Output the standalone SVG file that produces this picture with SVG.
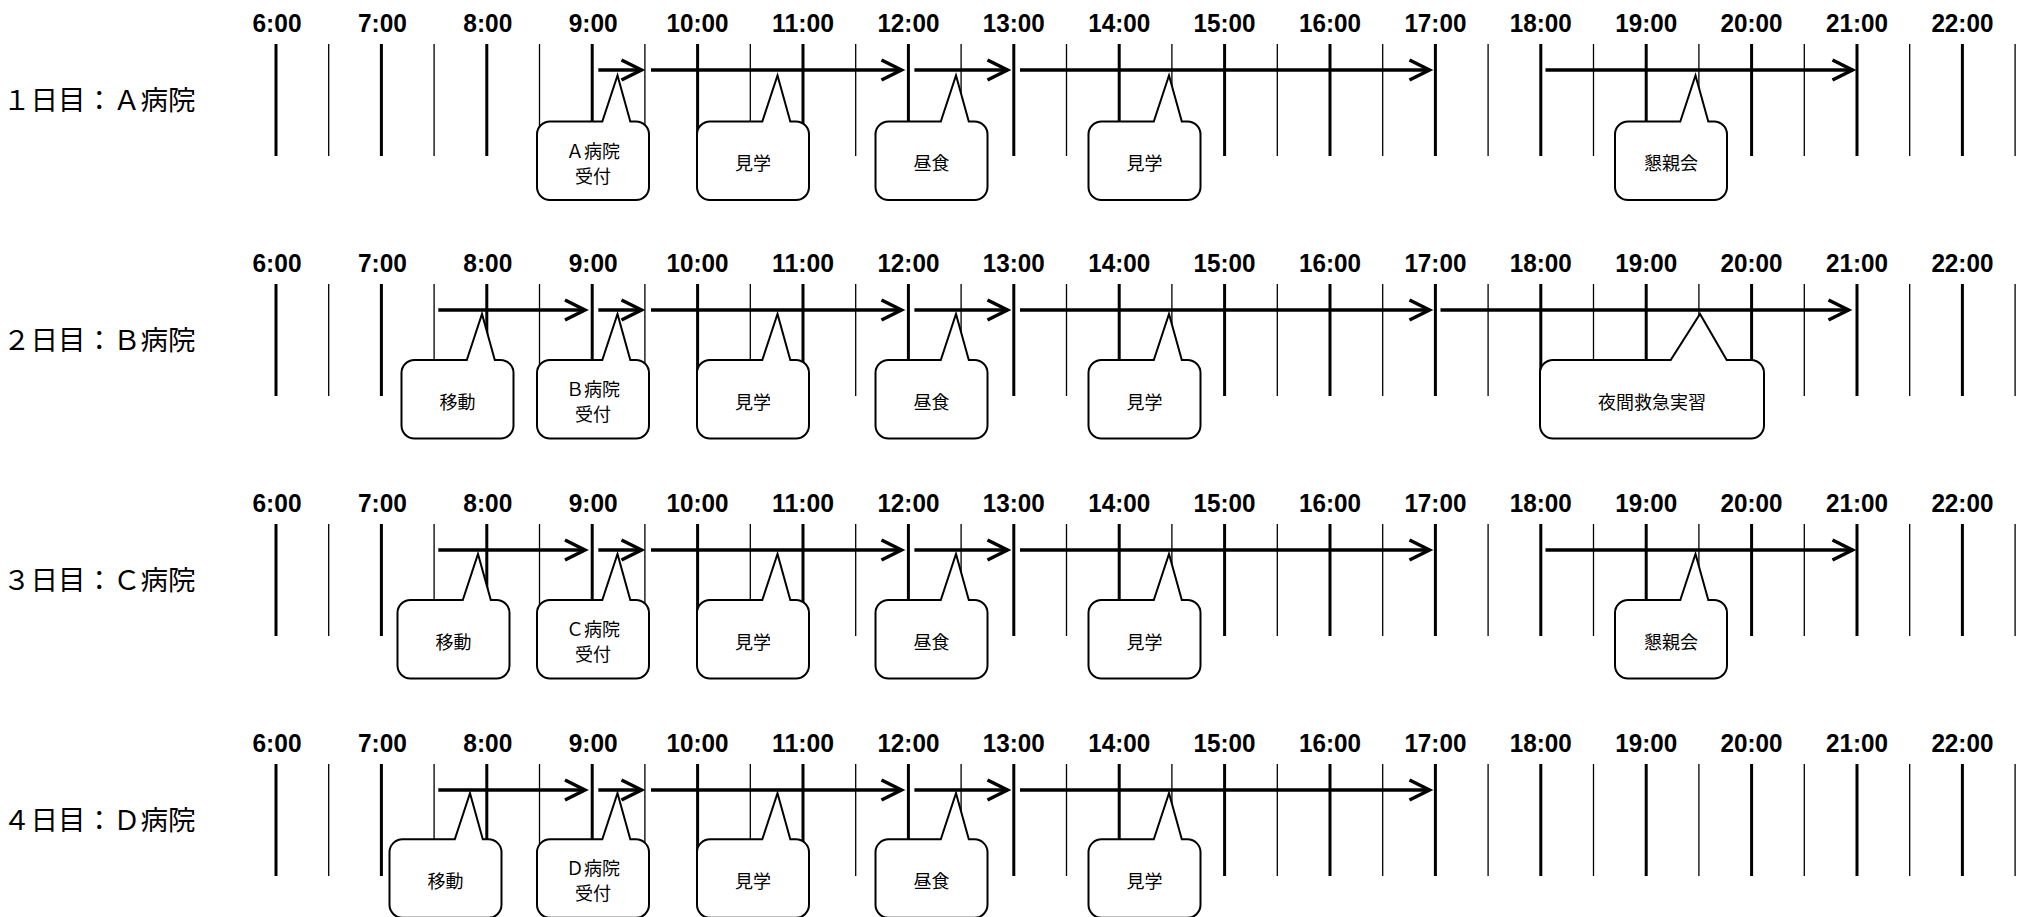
<svg xmlns="http://www.w3.org/2000/svg" xmlns:xlink="http://www.w3.org/1999/xlink" width="2031" height="917" viewBox="0 0 2031 917">
<style>
.hr{stroke:#000;stroke-width:3;fill:none}
.hh{stroke:#000;stroke-width:1.3;fill:none}
.tl{font-family:"Liberation Sans",Arial,sans-serif;font-weight:bold;font-size:25px;text-anchor:middle;fill:#000}
.day{font-family:"Noto Sans CJK JP",sans-serif;font-size:27.5px;dominant-baseline:central;fill:#000}
.arr{stroke:#000;stroke-width:3.5;fill:none;marker-end:url(#ah)}
.co{fill:#fff;stroke:#000;stroke-width:2}
.ct{font-family:"Noto Sans CJK JP",sans-serif;font-size:18px;text-anchor:middle;dominant-baseline:central;fill:#000}
</style>
<defs>
<marker id="ah" markerUnits="userSpaceOnUse" markerWidth="30" markerHeight="30" viewBox="-25 -15 30 30" refX="0" refY="0" orient="auto" overflow="visible">
<path d="M-20,-10L0,0L-20,10" fill="none" stroke="#000" stroke-width="3.5"/>
</marker>
<g id="grid">
<path class="hr" d="M276 44V156M381.4 44V156M486.8 44V156M592.2 44V156M697.6 44V156M803 44V156M908.4 44V156M1013.8 44V156M1119.2 44V156M1224.6 44V156M1330 44V156M1435.4 44V156M1540.8 44V156M1646.2 44V156M1751.6 44V156M1857 44V156M1962.4 44V156"/>
<path class="hh" d="M328.7 44V156M434.1 44V156M539.5 44V156M644.9 44V156M750.3 44V156M855.7 44V156M961.1 44V156M1066.5 44V156M1171.9 44V156M1277.3 44V156M1382.7 44V156M1488.1 44V156M1593.5 44V156M1698.9 44V156M1804.3 44V156M1909.7 44V156M2015.1 44V156"/>
</g>
<path id="cs" class="co" d="M13,0H65.3L80.5,-46L93.3,0H99A13,13 0 0 1 112,13V65.5A13,13 0 0 1 99,78.5H13A13,13 0 0 1 0,65.5V13A13,13 0 0 1 13,0Z"/>
<path id="cw" class="co" d="M13,0H130.7L160,-46L186.7,0H211A13,13 0 0 1 224,13V65.5A13,13 0 0 1 211,78.5H13A13,13 0 0 1 0,65.5V13A13,13 0 0 1 13,0Z"/>
</defs>

<g id="grid-lines">
<use xlink:href="#grid" href="#grid"/>
<use xlink:href="#grid" href="#grid" y="240"/>
<use xlink:href="#grid" href="#grid" y="480"/>
<use xlink:href="#grid" href="#grid" y="720"/>
</g>

<g id="day-labels">
<text class="day" x="3" y="98">１日目：Ａ病院</text>
<text class="day" x="3" y="338">２日目：Ｂ病院</text>
<text class="day" x="3" y="578">３日目：Ｃ病院</text>
<text class="day" x="3" y="818">４日目：Ｄ病院</text>
</g>

<g id="time-labels">
<g transform="translate(0,0)">
<text class="tl" x="277" y="31.5" textLength="49" lengthAdjust="spacingAndGlyphs">6:00</text><text class="tl" x="382.4" y="31.5" textLength="49" lengthAdjust="spacingAndGlyphs">7:00</text><text class="tl" x="487.8" y="31.5" textLength="49" lengthAdjust="spacingAndGlyphs">8:00</text><text class="tl" x="593.2" y="31.5" textLength="49" lengthAdjust="spacingAndGlyphs">9:00</text><text class="tl" x="697.6" y="31.5" textLength="62" lengthAdjust="spacingAndGlyphs">10:00</text><text class="tl" x="803" y="31.5" textLength="62" lengthAdjust="spacingAndGlyphs">11:00</text><text class="tl" x="908.4" y="31.5" textLength="62" lengthAdjust="spacingAndGlyphs">12:00</text><text class="tl" x="1013.8" y="31.5" textLength="62" lengthAdjust="spacingAndGlyphs">13:00</text><text class="tl" x="1119.2" y="31.5" textLength="62" lengthAdjust="spacingAndGlyphs">14:00</text><text class="tl" x="1224.6" y="31.5" textLength="62" lengthAdjust="spacingAndGlyphs">15:00</text><text class="tl" x="1330" y="31.5" textLength="62" lengthAdjust="spacingAndGlyphs">16:00</text><text class="tl" x="1435.4" y="31.5" textLength="62" lengthAdjust="spacingAndGlyphs">17:00</text><text class="tl" x="1540.8" y="31.5" textLength="62" lengthAdjust="spacingAndGlyphs">18:00</text><text class="tl" x="1646.2" y="31.5" textLength="62" lengthAdjust="spacingAndGlyphs">19:00</text><text class="tl" x="1751.6" y="31.5" textLength="62" lengthAdjust="spacingAndGlyphs">20:00</text><text class="tl" x="1857" y="31.5" textLength="62" lengthAdjust="spacingAndGlyphs">21:00</text><text class="tl" x="1962.4" y="31.5" textLength="62" lengthAdjust="spacingAndGlyphs">22:00</text>
</g>
<g transform="translate(0,240)">
<text class="tl" x="277" y="31.5" textLength="49" lengthAdjust="spacingAndGlyphs">6:00</text><text class="tl" x="382.4" y="31.5" textLength="49" lengthAdjust="spacingAndGlyphs">7:00</text><text class="tl" x="487.8" y="31.5" textLength="49" lengthAdjust="spacingAndGlyphs">8:00</text><text class="tl" x="593.2" y="31.5" textLength="49" lengthAdjust="spacingAndGlyphs">9:00</text><text class="tl" x="697.6" y="31.5" textLength="62" lengthAdjust="spacingAndGlyphs">10:00</text><text class="tl" x="803" y="31.5" textLength="62" lengthAdjust="spacingAndGlyphs">11:00</text><text class="tl" x="908.4" y="31.5" textLength="62" lengthAdjust="spacingAndGlyphs">12:00</text><text class="tl" x="1013.8" y="31.5" textLength="62" lengthAdjust="spacingAndGlyphs">13:00</text><text class="tl" x="1119.2" y="31.5" textLength="62" lengthAdjust="spacingAndGlyphs">14:00</text><text class="tl" x="1224.6" y="31.5" textLength="62" lengthAdjust="spacingAndGlyphs">15:00</text><text class="tl" x="1330" y="31.5" textLength="62" lengthAdjust="spacingAndGlyphs">16:00</text><text class="tl" x="1435.4" y="31.5" textLength="62" lengthAdjust="spacingAndGlyphs">17:00</text><text class="tl" x="1540.8" y="31.5" textLength="62" lengthAdjust="spacingAndGlyphs">18:00</text><text class="tl" x="1646.2" y="31.5" textLength="62" lengthAdjust="spacingAndGlyphs">19:00</text><text class="tl" x="1751.6" y="31.5" textLength="62" lengthAdjust="spacingAndGlyphs">20:00</text><text class="tl" x="1857" y="31.5" textLength="62" lengthAdjust="spacingAndGlyphs">21:00</text><text class="tl" x="1962.4" y="31.5" textLength="62" lengthAdjust="spacingAndGlyphs">22:00</text>
</g>
<g transform="translate(0,480)">
<text class="tl" x="277" y="31.5" textLength="49" lengthAdjust="spacingAndGlyphs">6:00</text><text class="tl" x="382.4" y="31.5" textLength="49" lengthAdjust="spacingAndGlyphs">7:00</text><text class="tl" x="487.8" y="31.5" textLength="49" lengthAdjust="spacingAndGlyphs">8:00</text><text class="tl" x="593.2" y="31.5" textLength="49" lengthAdjust="spacingAndGlyphs">9:00</text><text class="tl" x="697.6" y="31.5" textLength="62" lengthAdjust="spacingAndGlyphs">10:00</text><text class="tl" x="803" y="31.5" textLength="62" lengthAdjust="spacingAndGlyphs">11:00</text><text class="tl" x="908.4" y="31.5" textLength="62" lengthAdjust="spacingAndGlyphs">12:00</text><text class="tl" x="1013.8" y="31.5" textLength="62" lengthAdjust="spacingAndGlyphs">13:00</text><text class="tl" x="1119.2" y="31.5" textLength="62" lengthAdjust="spacingAndGlyphs">14:00</text><text class="tl" x="1224.6" y="31.5" textLength="62" lengthAdjust="spacingAndGlyphs">15:00</text><text class="tl" x="1330" y="31.5" textLength="62" lengthAdjust="spacingAndGlyphs">16:00</text><text class="tl" x="1435.4" y="31.5" textLength="62" lengthAdjust="spacingAndGlyphs">17:00</text><text class="tl" x="1540.8" y="31.5" textLength="62" lengthAdjust="spacingAndGlyphs">18:00</text><text class="tl" x="1646.2" y="31.5" textLength="62" lengthAdjust="spacingAndGlyphs">19:00</text><text class="tl" x="1751.6" y="31.5" textLength="62" lengthAdjust="spacingAndGlyphs">20:00</text><text class="tl" x="1857" y="31.5" textLength="62" lengthAdjust="spacingAndGlyphs">21:00</text><text class="tl" x="1962.4" y="31.5" textLength="62" lengthAdjust="spacingAndGlyphs">22:00</text>
</g>
<g transform="translate(0,720)">
<text class="tl" x="277" y="31.5" textLength="49" lengthAdjust="spacingAndGlyphs">6:00</text><text class="tl" x="382.4" y="31.5" textLength="49" lengthAdjust="spacingAndGlyphs">7:00</text><text class="tl" x="487.8" y="31.5" textLength="49" lengthAdjust="spacingAndGlyphs">8:00</text><text class="tl" x="593.2" y="31.5" textLength="49" lengthAdjust="spacingAndGlyphs">9:00</text><text class="tl" x="697.6" y="31.5" textLength="62" lengthAdjust="spacingAndGlyphs">10:00</text><text class="tl" x="803" y="31.5" textLength="62" lengthAdjust="spacingAndGlyphs">11:00</text><text class="tl" x="908.4" y="31.5" textLength="62" lengthAdjust="spacingAndGlyphs">12:00</text><text class="tl" x="1013.8" y="31.5" textLength="62" lengthAdjust="spacingAndGlyphs">13:00</text><text class="tl" x="1119.2" y="31.5" textLength="62" lengthAdjust="spacingAndGlyphs">14:00</text><text class="tl" x="1224.6" y="31.5" textLength="62" lengthAdjust="spacingAndGlyphs">15:00</text><text class="tl" x="1330" y="31.5" textLength="62" lengthAdjust="spacingAndGlyphs">16:00</text><text class="tl" x="1435.4" y="31.5" textLength="62" lengthAdjust="spacingAndGlyphs">17:00</text><text class="tl" x="1540.8" y="31.5" textLength="62" lengthAdjust="spacingAndGlyphs">18:00</text><text class="tl" x="1646.2" y="31.5" textLength="62" lengthAdjust="spacingAndGlyphs">19:00</text><text class="tl" x="1751.6" y="31.5" textLength="62" lengthAdjust="spacingAndGlyphs">20:00</text><text class="tl" x="1857" y="31.5" textLength="62" lengthAdjust="spacingAndGlyphs">21:00</text><text class="tl" x="1962.4" y="31.5" textLength="62" lengthAdjust="spacingAndGlyphs">22:00</text>
</g>
</g>

<g id="connectors">
<path class="arr" d="M598.3 70H641.5"/>
<path class="arr" d="M651 70H901.5"/>
<path class="arr" d="M914.4 70H1007.5"/>
<path class="arr" d="M1020 70H1429.5"/>
<path class="arr" d="M1545.5 70H1852.5"/>

<path class="arr" d="M438.3 310H585"/>
<path class="arr" d="M598.3 310H641.5"/>
<path class="arr" d="M651 310H901.5"/>
<path class="arr" d="M914.4 310H1007.5"/>
<path class="arr" d="M1020 310H1429.5"/>
<path class="arr" d="M1440.5 310H1848.5"/>

<path class="arr" d="M438.3 550H585"/>
<path class="arr" d="M598.3 550H641.5"/>
<path class="arr" d="M651 550H901.5"/>
<path class="arr" d="M914.4 550H1007.5"/>
<path class="arr" d="M1020 550H1429.5"/>
<path class="arr" d="M1545.5 550H1852.5"/>

<path class="arr" d="M438.3 790H585"/>
<path class="arr" d="M598.3 790H641.5"/>
<path class="arr" d="M651 790H901.5"/>
<path class="arr" d="M914.4 790H1007.5"/>
<path class="arr" d="M1020 790H1429.5"/>
</g>

<g id="d1-uketsuke" transform="translate(537,121.5)"><use xlink:href="#cs" href="#cs"/><text class="ct" x="56" y="28">Ａ病院</text><text class="ct" x="56" y="53">受付</text></g>
<g id="d1-kengaku1" transform="translate(697,121.5)"><use xlink:href="#cs" href="#cs"/><text class="ct" x="56" y="40.5">見学</text></g>
<g id="d1-chushoku" transform="translate(875.5,121.5)"><use xlink:href="#cs" href="#cs"/><text class="ct" x="56" y="40.5">昼食</text></g>
<g id="d1-kengaku2" transform="translate(1088.5,121.5)"><use xlink:href="#cs" href="#cs"/><text class="ct" x="56" y="40.5">見学</text></g>
<g id="d1-konshinkai" transform="translate(1615,121.5)"><use xlink:href="#cs" href="#cs"/><text class="ct" x="56" y="40.5">懇親会</text></g>

<g id="d2-ido" transform="translate(401.5,360)"><use xlink:href="#cs" href="#cs"/><text class="ct" x="56" y="40.5">移動</text></g>
<g id="d2-uketsuke" transform="translate(537,360)"><use xlink:href="#cs" href="#cs"/><text class="ct" x="56" y="28">Ｂ病院</text><text class="ct" x="56" y="53">受付</text></g>
<g id="d2-kengaku1" transform="translate(697,360)"><use xlink:href="#cs" href="#cs"/><text class="ct" x="56" y="40.5">見学</text></g>
<g id="d2-chushoku" transform="translate(875.5,360)"><use xlink:href="#cs" href="#cs"/><text class="ct" x="56" y="40.5">昼食</text></g>
<g id="d2-kengaku2" transform="translate(1088.5,360)"><use xlink:href="#cs" href="#cs"/><text class="ct" x="56" y="40.5">見学</text></g>
<g id="d2-yakan" transform="translate(1540,360)"><use xlink:href="#cw" href="#cw"/><text class="ct" x="112" y="40.5">夜間救急実習</text></g>

<g id="d3-ido" transform="translate(397.5,600)"><use xlink:href="#cs" href="#cs"/><text class="ct" x="56" y="40.5">移動</text></g>
<g id="d3-uketsuke" transform="translate(537,600)"><use xlink:href="#cs" href="#cs"/><text class="ct" x="56" y="28">Ｃ病院</text><text class="ct" x="56" y="53">受付</text></g>
<g id="d3-kengaku1" transform="translate(697,600)"><use xlink:href="#cs" href="#cs"/><text class="ct" x="56" y="40.5">見学</text></g>
<g id="d3-chushoku" transform="translate(875.5,600)"><use xlink:href="#cs" href="#cs"/><text class="ct" x="56" y="40.5">昼食</text></g>
<g id="d3-kengaku2" transform="translate(1088.5,600)"><use xlink:href="#cs" href="#cs"/><text class="ct" x="56" y="40.5">見学</text></g>
<g id="d3-konshinkai" transform="translate(1615,600)"><use xlink:href="#cs" href="#cs"/><text class="ct" x="56" y="40.5">懇親会</text></g>

<g id="d4-ido" transform="translate(389.5,839.3)"><use xlink:href="#cs" href="#cs"/><text class="ct" x="56" y="40.5">移動</text></g>
<g id="d4-uketsuke" transform="translate(537,839.3)"><use xlink:href="#cs" href="#cs"/><text class="ct" x="56" y="28">Ｄ病院</text><text class="ct" x="56" y="53">受付</text></g>
<g id="d4-kengaku1" transform="translate(697,839.3)"><use xlink:href="#cs" href="#cs"/><text class="ct" x="56" y="40.5">見学</text></g>
<g id="d4-chushoku" transform="translate(875.5,839.3)"><use xlink:href="#cs" href="#cs"/><text class="ct" x="56" y="40.5">昼食</text></g>
<g id="d4-kengaku2" transform="translate(1088.5,839.3)"><use xlink:href="#cs" href="#cs"/><text class="ct" x="56" y="40.5">見学</text></g>
</svg>
